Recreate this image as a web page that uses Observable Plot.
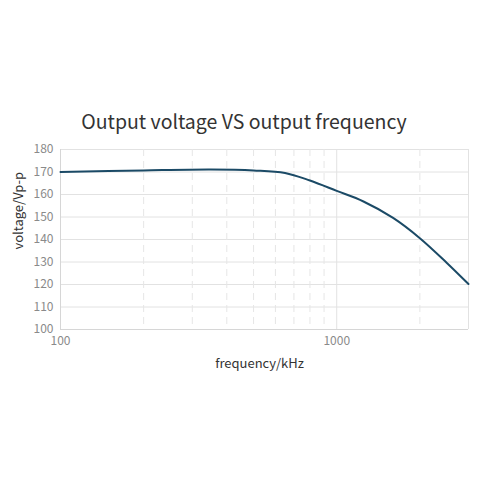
<!DOCTYPE html>
<html>
<head>
<meta charset="utf-8">
<script src="https://cdn.jsdelivr.net/npm/d3@7"></script>
<script src="https://cdn.jsdelivr.net/npm/@observablehq/plot@0.6"></script>
<style>
  html, body { margin: 0; padding: 0; background: #fff; }
  #wrap { width: 488px; height: 488px; overflow: hidden; }
  #title { height: 32px; padding-top: 106px; line-height: 30px; text-align: center;
    font-family: "Noto Sans CJK SC", "Noto Sans", sans-serif; font-size: 19.5px; color: #333; }
  #chart svg { display: block; }
</style>
</head>
<body>
<div id="wrap">
  <div id="title">Output voltage VS output frequency</div>
  <div id="chart"></div>
</div>
<script>
const titleText = "Output voltage VS output frequency";
const xLabel = "frequency/kHz";
const yLabel = "voltage/Vp-p";
const frequency = [100, 200, 350, 500, 650, 800, 1000, 1250, 1600, 2000, 2500, 3000];
const voltage   = [170, 170.7, 171.1, 170.7, 169.6, 166.2, 161.6, 156.9, 149.6, 140.6, 129.7, 120.2];
const yTicks = [100, 110, 120, 130, 140, 150, 160, 170, 180];
const xLabelTicks = [100, 1000];
const xMinorTicks = [200, 300, 400, 500, 600, 700, 800, 900, 2000];

const data = frequency.map((f, i) => ({f, v: voltage[i]}));
const font = "Noto Sans CJK SC, Noto Sans, sans-serif";

const chart = Plot.plot({
  width: 488,
  height: 245,
  marginLeft: 60,
  marginRight: 20,
  marginTop: 11,
  marginBottom: 54,
  style: { fontFamily: font, fontSize: "12px", color: "#8a8a8a", background: "#fff" },
  x: { type: "log", domain: [100, 3000] },
  y: { domain: [100, 180] },
  marks: [
    Plot.ruleY(yTicks, { stroke: "#e2e2e2", strokeWidth: 1 }),
    Plot.ruleX(xMinorTicks, { stroke: "#e6e6e6", strokeWidth: 1, strokeDasharray: "7,5" }),
    Plot.ruleX([1000], { stroke: "#e2e2e2", strokeWidth: 1 }),
    Plot.ruleX([3000], { stroke: "#e2e2e2", strokeWidth: 1 }),
    Plot.ruleX([100], { stroke: "#d6d6d6", strokeWidth: 1 }),
    Plot.ruleY([100], { stroke: "#d6d6d6", strokeWidth: 1 }),
    Plot.line(data, { x: "f", y: "v", stroke: "#1b4a66", strokeWidth: 2, curve: "catmull-rom" }),
    Plot.axisX({ ticks: xLabelTicks, tickFormat: d => String(d), tickSize: 0, tickPadding: 7, label: null, fill: "#8a8a8a" }),
    Plot.axisY({ ticks: yTicks, tickSize: 0, tickPadding: 7, label: null, fill: "#8a8a8a" }),
    Plot.text([xLabel], { frameAnchor: "bottom", dy: 38, dx: -5, text: d => d, fontSize: 13, fill: "#333" }),
    Plot.text([yLabel], { frameAnchor: "left", dx: -42, dy: 10, rotate: -90, text: d => d, fontSize: 13, fill: "#333" })
  ]
});
document.getElementById("chart").appendChild(chart);
</script>
</body>
</html>
